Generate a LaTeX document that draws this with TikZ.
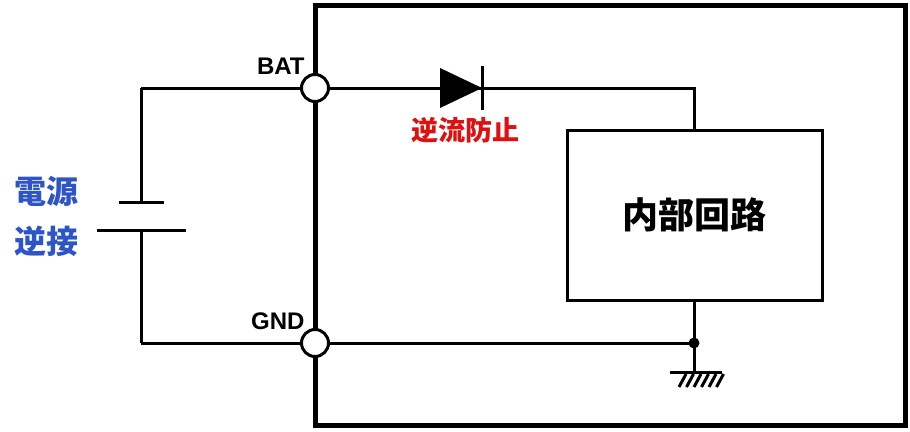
\documentclass[tikz,border=0pt]{standalone}
\usepackage{fontspec}
\setmainfont{Liberation Sans}
\newfontfamily\cjk{Noto Sans CJK JP}
\definecolor{labelblue}{HTML}{2E55C8}
\definecolor{labelred}{HTML}{E01010}
\begin{document}
\begin{tikzpicture}[x=1pt, y=-1pt, line width=3pt,
    term/.style={draw, circle, fill=white, minimum size=27pt, inner sep=0pt},
    pin/.style={font=\bfseries\fontsize{24}{24}\selectfont}]
    \useasboundingbox (0,0) rectangle (910,431);
    \draw[line width=5pt] (315,5) rectangle (905,425);
    % inner block
    \node[draw, minimum width=255pt, minimum height=170pt, font=\cjk\bfseries\fontsize{36}{36}\selectfont] (core) at (694.5,215) {内部回路};
    % battery
    \coordinate (bt) at (141,88);
    \coordinate (bb) at (141,343);
    \coordinate (p1) at (141,202);
    \coordinate (p2) at (141,230);
    \draw (119,202) -- (164,202);
    \draw (97,230) -- (186,230);
    % terminals
    \coordinate (gj) at (694,343);
    \coordinate (tj) at (694,88);
    \draw (bt) -- (p1);
    \draw (p2) -- (bb);
    \draw (bt) -- (315,88) -- (tj) -- (core.north -| tj);
    \draw (bb) -- (gj);
    \draw (core.south -| gj) -- (gj) -- (694,372);
    \fill (gj) circle (5.5pt);
    % diode
    \fill (440,68) -- (482,88) -- (440,108) -- cycle;
    \draw (482,66) -- (482,110);
    \node[text=labelred, font=\cjk\bfseries\fontsize{27}{27}\selectfont] (rev) at (465,130) {逆流防止};
    % ground
    \draw (670,372) -- (722,372);
    \foreach \i in {0,...,5}
        \draw (686+\i*7.5,374) -- (679+\i*7.5,387);
    \node[term] (bat) at (315,88) {};
    \node[term] (gnd) at (315,343) {};
    \node[pin, anchor=south east] at ([xshift=5pt,yshift=-2pt]bat.north west) {BAT};
    \node[pin, anchor=south east] at ([xshift=5pt,yshift=-2pt]gnd.north west) {GND};
    \node[text=labelblue, font=\cjk\bfseries\fontsize{32}{50}\selectfont, align=center] (src) at (46,216) {電源\\逆接};
\end{tikzpicture}
\end{document}
